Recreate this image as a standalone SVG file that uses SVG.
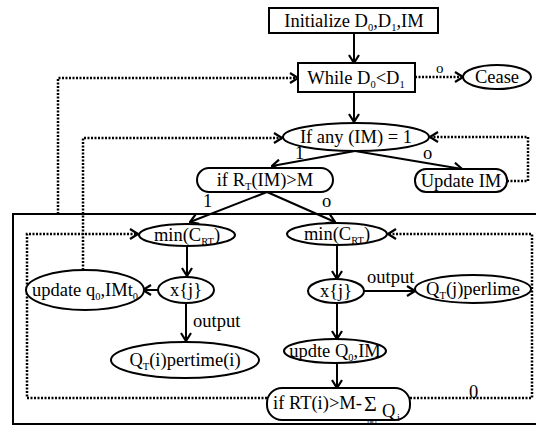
<svg xmlns="http://www.w3.org/2000/svg" width="536" height="427" viewBox="0 0 536 427">
<style>
text{font-family:"Liberation Serif","Times New Roman",serif;font-size:18.5px;fill:#000}
.m{text-anchor:middle}
.s{font-size:10.5px}
.node{fill:#fff;stroke:#000;stroke-width:2}
.ln{fill:none;stroke:#000;stroke-width:2}
.dt{fill:none;stroke:#000;stroke-width:2.5;stroke-dasharray:2 1.5}
.lb{font-size:18.5px}
</style>
<defs>
<marker id="a" viewBox="0 0 10 12" refX="9" refY="6" markerWidth="10" markerHeight="12" markerUnits="userSpaceOnUse" orient="auto">
<path d="M1,1 L9,6 L1,11" fill="none" stroke="#000" stroke-width="2.2"/>
</marker>
</defs>
<rect id="frame" x="13" y="214" width="540" height="210" fill="none" stroke="#000" stroke-width="2"/>
<g id="connectors">
<line class="ln" x1="354" y1="33" x2="354" y2="63" marker-end="url(#a)"/>
<line class="ln" x1="354" y1="92" x2="354" y2="122" marker-end="url(#a)"/>
<path class="dt" d="M415,77 H463" marker-end="url(#a)"/>
<line class="ln" x1="355" y1="151" x2="272" y2="166" marker-end="url(#a)"/>
<line class="ln" x1="355" y1="151" x2="462" y2="169" marker-end="url(#a)"/>
<path class="dt" d="M507,181 H528 V137 H430" marker-end="url(#a)"/>
<path class="dt" d="M58,214 V78 H298" marker-end="url(#a)"/>
<path class="dt" d="M83,270 V138 H282" marker-end="url(#a)"/>
<line class="ln" x1="267" y1="192" x2="190" y2="222" marker-end="url(#a)"/>
<line class="ln" x1="267" y1="192" x2="335" y2="222" marker-end="url(#a)"/>
<line class="ln" x1="187" y1="246" x2="187" y2="276" marker-end="url(#a)"/>
<line class="ln" x1="158" y1="290" x2="143" y2="290" marker-end="url(#a)"/>
<line class="ln" x1="186" y1="303" x2="186" y2="341" marker-end="url(#a)"/>
<line class="ln" x1="337" y1="245" x2="337" y2="279" marker-end="url(#a)"/>
<line class="ln" x1="364" y1="291" x2="415" y2="291" marker-end="url(#a)"/>
<line class="ln" x1="337" y1="303" x2="337" y2="339" marker-end="url(#a)"/>
<line class="ln" x1="337" y1="363" x2="337" y2="388" marker-end="url(#a)"/>
<path class="dt" d="M267,398 H27 V234 H138" marker-end="url(#a)"/>
<path class="dt" d="M410,398 H532 V234 H388" marker-end="url(#a)"/>
<text x="436" y="73" style="font-size:15px">o</text>
<text class="lb" x="295" y="159">1</text>
<text class="lb" x="423" y="159">o</text>
<text class="lb" x="203" y="207">1</text>
<text class="lb" x="322" y="207">o</text>
<text class="lb" x="193" y="327">output</text>
<text class="lb" x="367" y="283">output</text>
<text class="lb" x="469" y="398">0</text>
</g>
<g id="init"><rect class="node" x="269" y="8" width="169" height="25"/><text class="m" x="354" y="27">Initialize D<tspan class="s" dy="4">0</tspan><tspan dy="-4">,D</tspan><tspan class="s" dy="4">1</tspan><tspan dy="-4">,IM</tspan></text></g>
<g id="while"><rect class="node" x="298" y="63" width="117" height="29"/><text class="m" x="356" y="84">While D<tspan class="s" dy="4">0</tspan><tspan dy="-4">&lt;D</tspan><tspan class="s" dy="4">1</tspan></text></g>
<g id="cease"><ellipse class="node" cx="497" cy="77" rx="34" ry="12"/><text class="m" x="497" y="83">Cease</text></g>
<g id="ifany"><ellipse class="node" cx="356" cy="137" rx="73" ry="14"/><text class="m" x="356" y="143">If any (IM) = 1</text></g>
<g id="ifrt"><rect class="node" x="197" y="168" width="136" height="24" rx="12"/><text class="m" x="265" y="186">if R<tspan class="s" dy="4">T</tspan><tspan dy="-4">(IM)&gt;M</tspan></text></g>
<g id="updateim"><rect class="node" x="415" y="169" width="92" height="23" rx="11"/><text class="m" x="461" y="187">Update IM</text></g>
<g id="minleft"><ellipse class="node" cx="187" cy="235" rx="48" ry="11"/><text class="m" x="187" y="241">min(C<tspan class="s" dy="4">RT</tspan><tspan dy="-4">)</tspan></text></g>
<g id="minright"><ellipse class="node" cx="337" cy="234" rx="50" ry="11"/><text class="m" x="337" y="240">min(C<tspan class="s" dy="4">RT</tspan><tspan dy="-4">)</tspan></text></g>
<g id="xjleft"><ellipse class="node" cx="186" cy="290" rx="28" ry="13"/><text class="m" x="186" y="296">x{j}</text></g>
<g id="updateq"><ellipse class="node" cx="85" cy="290" rx="59" ry="20"/><text class="m" x="85" y="296">update q<tspan class="s" dy="4">0</tspan><tspan dy="-4">,IMt</tspan><tspan class="s" dy="4">0</tspan></text></g>
<g id="qti"><ellipse class="node" cx="185" cy="360" rx="74" ry="18"/><text class="m" x="185" y="366">Q<tspan class="s" dy="4">T</tspan><tspan dy="-4">(i)pertime(i)</tspan></text></g>
<g id="xjright"><ellipse class="node" cx="336" cy="291" rx="28" ry="12"/><text class="m" x="336" y="297">x{j}</text></g>
<g id="qtj"><ellipse class="node" cx="473" cy="289" rx="58" ry="14"/><text class="m" x="473" y="295">Q<tspan class="s" dy="4">T</tspan><tspan dy="-4">(j)perlime</tspan></text></g>
<g id="updteq"><ellipse class="node" cx="335" cy="351" rx="51" ry="12"/><text class="m" x="335" y="357">updte Q<tspan class="s" dy="4">0</tspan><tspan dy="-4">,IM</tspan></text></g>
<g id="ifrti"><rect class="node" x="267" y="388" width="143" height="32" rx="15"/><text x="273" y="409">if RT(i)&gt;M-</text><text x="364" y="411" style="font-size:22px">Σ</text><text x="382" y="417">Q</text><text class="s" x="397" y="421">i</text><text x="367" y="425" style="font-size:8px">i=1</text></g>
</svg>
